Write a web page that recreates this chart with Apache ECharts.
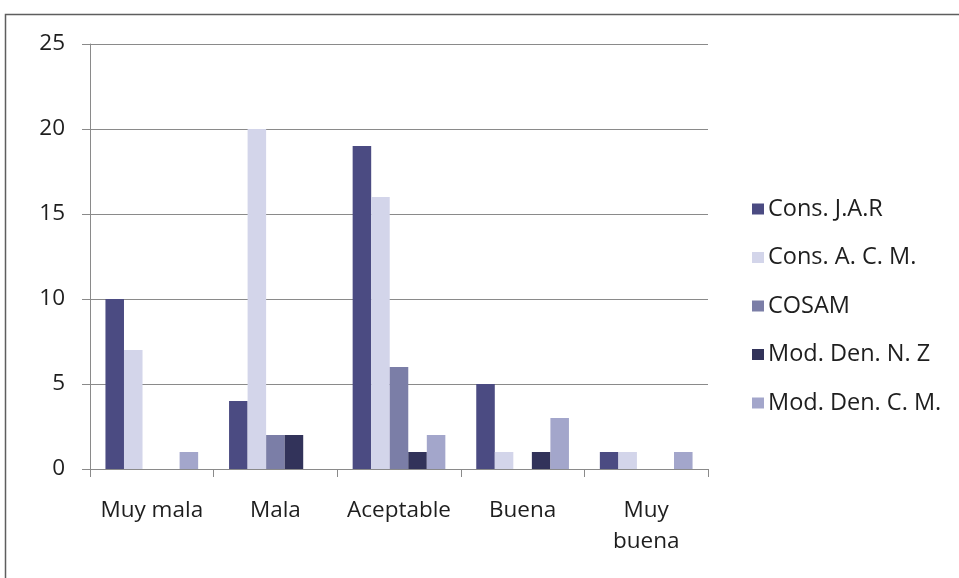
<!DOCTYPE html>
<html>
<head>
<meta charset="utf-8">
<script src="https://cdn.jsdelivr.net/npm/echarts@6/dist/echarts.min.js"></script>
<style>
  html, body { margin: 0; padding: 0; background: #ffffff; }
  #chart { width: 959px; height: 578px; }
</style>
</head>
<body>
<div id="chart"></div>
<script>
// Categories of the rating scale
const categories = ['Muy mala', 'Mala', 'Aceptable', 'Buena', 'Muy\nbuena'];

// Counts per source
const consJAR  = [10, 4, 19, 5, 1];
const consACM  = [7, 20, 16, 1, 1];
const cosam    = [0, 2, 6, 0, 0];
const modDenNZ = [0, 2, 1, 1, 0];
const modDenCM = [1, 0, 2, 3, 1];

const seriesNames = ['Cons. J.A.R', 'Cons. A. C. M.', 'COSAM', 'Mod. Den. N. Z', 'Mod. Den. C. M.'];
const seriesData = [consJAR, consACM, cosam, modDenNZ, modDenCM];
const seriesColors = ['#4b4b82', '#d3d5ea', '#7b7ea7', '#32335a', '#a3a6cb'];

// Y-axis ticks
const yMin = 0, yMax = 25, yStep = 5;

const font = 'Open Sans, Noto Sans, sans-serif';

const chart = echarts.init(document.getElementById('chart'));
chart.setOption({
  animation: false,
  backgroundColor: '#ffffff',
  graphic: [{
    type: 'rect',
    shape: { x: 5.5, y: 14.5, width: 960, height: 600 },
    style: { fill: 'none', stroke: '#5e5e5e', lineWidth: 1.5 },
    silent: true
  }],
  grid: { left: 90, right: 251, top: 44, bottom: 109, containLabel: false },
  legend: {
    orient: 'vertical',
    left: 747,
    top: 192,
    itemWidth: 12,
    itemHeight: 11,
    itemGap: 24.5,
    icon: 'rect',
    textStyle: { fontFamily: font, fontSize: 23.5, lineHeight: 24, color: '#1e1e1e', padding: [0, 0, 0, -1] },
    data: seriesNames
  },
  xAxis: {
    type: 'category',
    data: categories,
    axisLine: { lineStyle: { color: '#8a8a8a', width: 1 } },
    axisTick: { show: true, length: 8, lineStyle: { color: '#8a8a8a' } },
    axisLabel: { interval: 0, fontFamily: font, fontSize: 22.5, color: '#1e1e1e', margin: 26, lineHeight: 31 },
    splitLine: { show: false }
  },
  yAxis: {
    type: 'value',
    min: yMin,
    max: yMax,
    interval: yStep,
    axisLine: { show: true, lineStyle: { color: '#8a8a8a', width: 1 } },
    axisTick: { show: true, length: 8, lineStyle: { color: '#8a8a8a' } },
    axisLabel: { fontFamily: font, fontSize: 22.5, color: '#1e1e1e', margin: 25 },
    splitLine: { lineStyle: { color: '#8a8a8a', width: 1 } }
  },
  series: seriesNames.map((name, i) => ({
    name: name,
    type: 'bar',
    data: seriesData[i],
    barGap: '0%',
    barCategoryGap: '25%',
    itemStyle: { color: seriesColors[i] }
  }))
});
</script>
</body>
</html>
